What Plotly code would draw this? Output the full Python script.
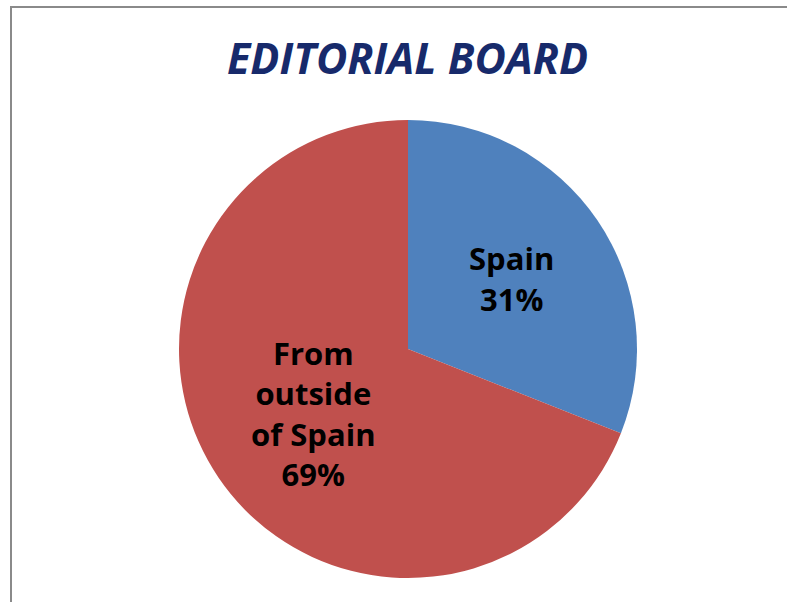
import plotly.graph_objects as go

labels = ["Spain", "From<br>outside<br>of Spain"]
values = [31, 69]
colors = ["#4F81BD", "#C0504D"]
title_text = "EDITORIAL BOARD"

W, H = 787, 602
cx, cy, r = 408, 349, 229

fig = go.Figure(go.Pie(
    labels=labels,
    values=values,
    sort=False,
    direction="clockwise",
    rotation=0,
    marker=dict(colors=colors, line=dict(color="white", width=0)),
    textinfo="label+percent",
    texttemplate="<b>%{label}<br>%{percent:.0%}</b>",
    textposition="inside",
    insidetextorientation="horizontal",
    insidetextfont=dict(family="Open Sans", size=31, color="black"),
    showlegend=False,
    hoverinfo="skip",
    domain=dict(x=[(cx - r) / W, (cx + r) / W], y=[(H - cy - r) / H, (H - cy + r) / H]),
))

fig.update_layout(
    width=W, height=H,
    margin=dict(l=0, r=0, t=0, b=0),
    paper_bgcolor="white",
    plot_bgcolor="white",
    annotations=[dict(
        text="<b><i>" + title_text + "</i></b>",
        x=407 / W, y=(H - 57) / H, xref="paper", yref="paper",
        xanchor="center", yanchor="middle", showarrow=False,
        font=dict(family="Open Sans", size=43, color="#172a6b"),
    )],
    shapes=[dict(
        type="rect", xref="paper", yref="paper",
        x0=11 / W, x1=1.02, y0=-0.02, y1=(H - 7) / H,
        line=dict(color="#8a8a8a", width=2),
    )],
)

fig.write_html("out.html")
